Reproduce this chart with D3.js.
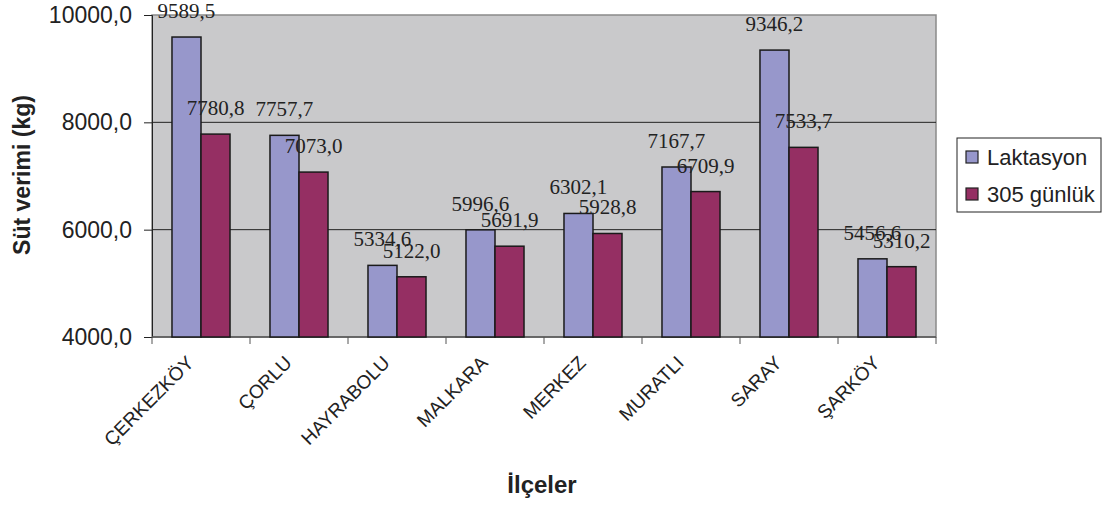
<!DOCTYPE html>
<html><head><meta charset="utf-8">
<script src="https://cdn.jsdelivr.net/npm/d3@7"></script>
<style>body{margin:0;background:#fff;}svg{display:block;}</style>
</head><body>
<svg id="c" width="1110" height="507"></svg>
<script>
const categories = ["ÇERKEZKÖY","ÇORLU","HAYRABOLU","MALKARA","MERKEZ","MURATLI","SARAY","ŞARKÖY"];
const laktasyon = [9589.5,7757.7,5334.6,5996.6,6302.1,7167.7,9346.2,5456.6];
const gunluk305 = [7780.8,7073.0,5122.0,5691.9,5928.8,6709.9,7533.7,5310.2];
const seriesNames = ["Laktasyon","305 günlük"];
const yTicks = [4000,6000,8000,10000];
const colors = ["#9797cb","#952f63"];

const svg = d3.select("#c");
const L=152,R=936,T=15,B=337;
const fmt = v => d3.format(".1f")(v).replace(".",",");
const x = d3.scaleBand().domain(categories).range([L,R]).paddingInner(0.408).paddingOuter(0.204);
const xs = d3.scaleBand().domain(seriesNames).range([0,x.bandwidth()]);
const y = d3.scaleLinear().domain([4000,10000]).range([B,T]);

svg.append("rect").attr("x",L).attr("y",T).attr("width",R-L).attr("height",B-T)
  .attr("fill","#c9c9cb").attr("stroke","#8a8a8a").attr("stroke-width",1.5);

// gridlines
svg.append("g").selectAll("line").data(yTicks.filter(d=>d>4000&&d<10000)).join("line")
  .attr("x1",L).attr("x2",R).attr("y1",d=>y(d)).attr("y2",d=>y(d)).attr("stroke","#222").attr("stroke-width",1);

// y axis
const ya = svg.append("g").attr("transform",`translate(${L},0)`)
  .call(d3.axisLeft(y).tickValues(yTicks).tickSize(8).tickPadding(12).tickFormat(fmt));
ya.select(".domain").attr("stroke","#222");
ya.selectAll(".tick line").attr("stroke","#222");
ya.selectAll("text").attr("font-family","Liberation Sans, Arial, sans-serif").attr("font-size",23).attr("fill","#222");

// x axis
const bounds = categories.map(c=>x(c)-x.step()*x.paddingInner()/2).concat([R]);
svg.append("line").attr("x1",L).attr("x2",R).attr("y1",B).attr("y2",B).attr("stroke","#555").attr("stroke-width",1.5);
svg.append("g").selectAll("line").data(bounds).join("line")
  .attr("x1",d=>d).attr("x2",d=>d).attr("y1",B).attr("y2",B+7).attr("stroke","#555").attr("stroke-width",1);

const data = [laktasyon,gunluk305];
const g = svg.append("g");
data.forEach((vals,si)=>{
  g.selectAll(null).data(categories).join("rect")
    .attr("x",c=>x(c)+xs(seriesNames[si]))
    .attr("y",(c,i)=>y(vals[i]))
    .attr("width",xs.bandwidth())
    .attr("height",(c,i)=>B-y(vals[i]))
    .attr("fill",colors[si]).attr("stroke","#1a1a1a").attr("stroke-width",1.5);
});
data.forEach((vals,si)=>{
  g.selectAll(null).data(categories).join("text")
    .attr("x",c=>x(c)+xs(seriesNames[si])+xs.bandwidth()/2)
    .attr("y",(c,i)=>y(vals[i])-19)
    .attr("text-anchor","middle")
    .attr("font-family","Liberation Serif, Times New Roman, serif").attr("font-size",21)
    .attr("fill","#222")
    .text((c,i)=>fmt(vals[i]));
});

// x labels
svg.append("g").selectAll("text").data(categories).join("text")
  .attr("transform",c=>`translate(${x(c)+x.bandwidth()/2-6},${B+27}) rotate(-45)`)
  .attr("text-anchor","end")
  .attr("font-family","Liberation Sans, Arial, sans-serif").attr("font-size",19).attr("fill","#222")
  .text(c=>c);

// axis titles
svg.append("text").attr("transform",`translate(30,175) rotate(-90)`).attr("text-anchor","middle")
  .attr("font-family","Liberation Sans, Arial, sans-serif").attr("font-size",23).attr("font-weight","bold").attr("fill","#222")
  .text("Süt verimi (kg)");
svg.append("text").attr("x",542).attr("y",493).attr("text-anchor","middle")
  .attr("font-family","Liberation Sans, Arial, sans-serif").attr("font-size",24).attr("font-weight","bold").attr("fill","#222")
  .text("İlçeler");

// legend
const lg = svg.append("g");
lg.append("rect").attr("x",957).attr("y",138).attr("width",144).attr("height",74).attr("fill","#fff").attr("stroke","#222").attr("stroke-width",1);
seriesNames.forEach((n,i)=>{
  const cy = 157 + i*37;
  lg.append("rect").attr("x",966).attr("y",cy-6).attr("width",12).attr("height",12).attr("fill",colors[i]).attr("stroke","#222").attr("stroke-width",1.2);
  lg.append("text").attr("x",987).attr("y",cy).attr("dy","0.36em")
    .attr("font-family","Liberation Sans, Arial, sans-serif").attr("font-size",22).attr("fill","#222").text(n);
});
</script>
</body></html>
